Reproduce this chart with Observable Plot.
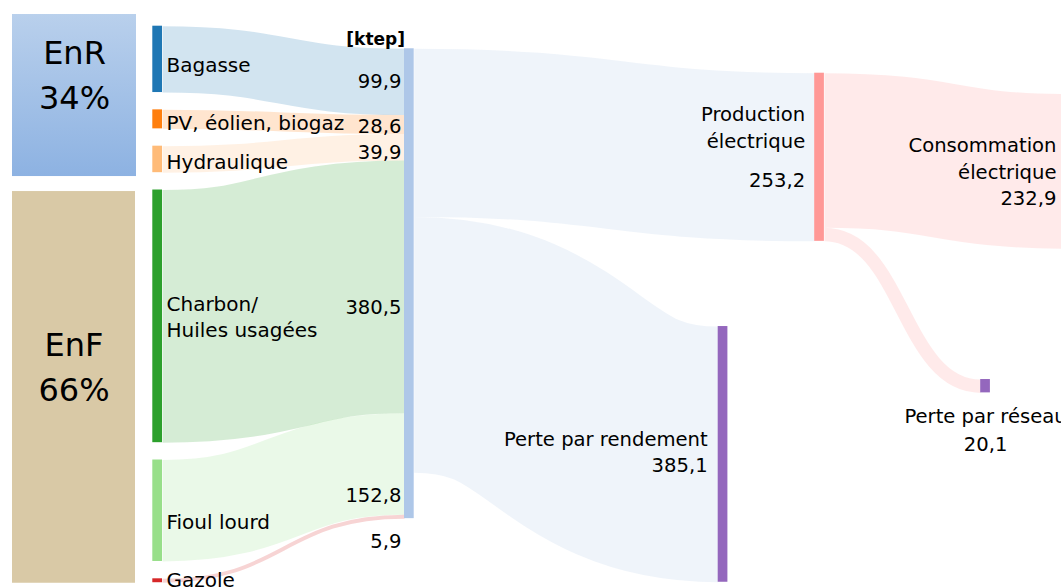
<!DOCTYPE html>
<html><head><meta charset="utf-8">
<script src="https://cdn.jsdelivr.net/npm/d3@7"></script>
<script src="https://cdn.jsdelivr.net/npm/@observablehq/plot@0.6"></script>
<style>html,body{margin:0;padding:0;background:#fff;overflow:hidden}</style>
</head><body><div id="chart"></div>
<script>
// ---------- DATA (ktep) ----------
const sources = ["Bagasse", "PV, éolien, biogaz", "Hydraulique", "Charbon/\nHuiles usagées", "Fioul lourd", "Gazole"];
const sourceValues = [99.9, 28.6, 39.9, 380.5, 152.8, 5.9];
const sourceColors = ["#1f77b4", "#ff7f0e", "#ffbb78", "#2ca02c", "#98df8a", "#d62728"];
const outputs = ["Production\nélectrique", "Perte par rendement"];
const outputValues = [253.2, 385.1];
const outputColors = ["#ff9896", "#9467bd"];
const finals = ["Consommation\nélectrique", "Perte par réseau"];
const finalValues = [232.9, 20.1];
const finalColors = ["#c5b0d5", "#9467bd"];
const totalColor = "#aec7e8";
const groups = ["EnR\n34%", "EnF\n66%"];
const unitLabel = "[ktep]";

const fmt = d3.formatLocale({decimal: ",", thousands: " ", grouping: [3]}).format(".1f");

// ---------- LAYOUT (x in px units, y in ktep units) ----------
const W = 1061, H = 588, yMax = 885.5, k = H / yMax, nodeW = 9.7;
const L = {
  source: {x: 152.3, top: 38.7, gap: 26.1},
  total: {x: 404, top: 72.7},
  production: {x: 814.2, top: 109.5},
  rendement: {x: 717.7, top: 491},
  conso: {x: 1066, top: 140.8},
  reseau: {x: 980.2, top: 570.8}
};
const srcLabelY = [108.0, 194.7, 253.5, 507.1, 795.6, 883];
const srcValueY = [132.5, 199.8, 238.4, 471.8, 755.6, 824.2];
const groupBoxes = [
  {x1: 12, x2: 136, y1: 21.1, y2: 265.1, fill: "url(#gradEnR)", labelX: 74, labelY: 162.7},
  {x1: 12, x2: 135, y1: 287.7, y2: 877.6, fill: "#d9c9a6", labelX: 73.5, labelY: 602.4}
];

// ---------- NODES ----------
const nodes = new Map();
let yy = L.source.top;
sources.forEach((name, i) => {
  nodes.set("s" + i, {name, value: sourceValues[i], color: sourceColors[i], x0: L.source.x, y0: yy});
  yy += sourceValues[i] + L.source.gap;
});
nodes.set("total", {name: "", value: Math.max(d3.sum(sourceValues), d3.sum(outputValues)), color: totalColor, x0: L.total.x, y0: L.total.top});
nodes.set("production", {name: outputs[0], value: outputValues[0], color: outputColors[0], x0: L.production.x, y0: L.production.top});
nodes.set("rendement", {name: outputs[1], value: outputValues[1], color: outputColors[1], x0: L.rendement.x, y0: L.rendement.top});
nodes.set("conso", {name: finals[0], value: finalValues[0], color: finalColors[0], x0: L.conso.x, y0: L.conso.top});
nodes.set("reseau", {name: finals[1], value: finalValues[1], color: finalColors[1], x0: L.reseau.x, y0: L.reseau.top});
for (const n of nodes.values()) { n.outOff = 0; n.inOff = 0; }

// ---------- LINKS ----------
const linkDefs = [];
sources.forEach((_, i) => linkDefs.push(["s" + i, "total", sourceValues[i]]));
linkDefs.push(["total", "production", outputValues[0]]);
linkDefs.push(["total", "rendement", outputValues[1]]);
linkDefs.push(["production", "conso", finalValues[0]]);
linkDefs.push(["production", "reseau", finalValues[1]]);
const links = linkDefs.map(([s, t, v]) => {
  const S = nodes.get(s), T = nodes.get(t);
  const l = {x1: S.x0 + nodeW, y1: S.y0 + S.outOff + v / 2, x2: T.x0, y2: T.y0 + T.inOff + v / 2, value: v, color: S.color};
  S.outOff += v; T.inOff += v;
  return l;
});
const nodeList = [...nodes.values()];

// ---------- LABELS ----------
const startLabels = sources.map((s, i) => ({x: L.source.x + nodeW + 4, y: srcLabelY[i], text: s}));
const endLabels = sourceValues.map((v, i) => ({x: L.total.x - 3, y: srcValueY[i], text: fmt(v)}));
endLabels.push({x: L.production.x - 9.5, y: 221.8, text: outputs[0]});
endLabels.push({x: L.production.x - 9.5, y: 281.2, text: fmt(outputValues[0])});
endLabels.push({x: L.rendement.x - 10.5, y: 710.8, text: outputs[1] + "\n" + fmt(outputValues[1])});
endLabels.push({x: L.conso.x - 10, y: 308.7, text: finals[0] + "\n" + fmt(finalValues[0])});
const midLabels = [{x: L.reseau.x + nodeW / 2, y: 677.7, text: finals[1] + "\n" + fmt(finalValues[1])}];
const groupLabels = groupBoxes.map((g, i) => ({x: g.labelX, y: g.labelY, text: groups[i]}));

const chart = Plot.plot({
  width: W, height: H, margin: 0,
  x: {domain: [0, W], range: [0, W], axis: null},
  y: {domain: [0, yMax], range: [0, H], axis: null},
  color: {type: "identity"},
  style: {fontFamily: "'DejaVu Sans', sans-serif", background: "white", color: "black", overflow: "hidden"},
  marks: [
    Plot.rect(groupBoxes, {x1: "x1", x2: "x2", y1: "y1", y2: "y2", fill: "fill"}),
    Plot.link(links, {x1: "x1", y1: "y1", x2: "x2", y2: "y2", curve: "bump-x", stroke: "color", strokeOpacity: 0.2, strokeWidth: d => d.value * k}),
    Plot.rect(nodeList, {x1: "x0", x2: d => d.x0 + nodeW, y1: "y0", y2: d => d.y0 + d.value, fill: "color"}),
    Plot.text(startLabels, {x: "x", y: "y", text: "text", textAnchor: "start", lineAnchor: "bottom", fontSize: 20, lineHeight: 1.33, fill: "black"}),
    Plot.text(endLabels, {x: "x", y: "y", text: "text", textAnchor: "end", lineAnchor: "bottom", fontSize: 19.6, lineHeight: 1.36, fill: "black"}),
    Plot.text(midLabels, {x: "x", y: "y", text: "text", textAnchor: "middle", lineAnchor: "bottom", fontSize: 19.6, lineHeight: 1.42, fill: "black"}),
    Plot.text([{x: L.total.x + 0.5, y: 66.3, text: unitLabel}], {x: "x", y: "y", text: "text", textAnchor: "end", lineAnchor: "bottom", fontSize: 17, fontWeight: "bold", fill: "black"}),
    Plot.text(groupLabels, {x: "x", y: "y", text: "text", textAnchor: "middle", lineAnchor: "bottom", fontSize: 32, lineHeight: 1.38, fill: "black"})
  ]
});
const defs = d3.select(chart).insert("defs", ":first-child");
const grad = defs.append("linearGradient").attr("id", "gradEnR").attr("x1", 0).attr("y1", 0).attr("x2", 0).attr("y2", 1);
grad.append("stop").attr("offset", "0%").attr("stop-color", "#b9d0ec");
grad.append("stop").attr("offset", "100%").attr("stop-color", "#8db2e2");
document.getElementById("chart").appendChild(chart);
</script>
</body></html>
